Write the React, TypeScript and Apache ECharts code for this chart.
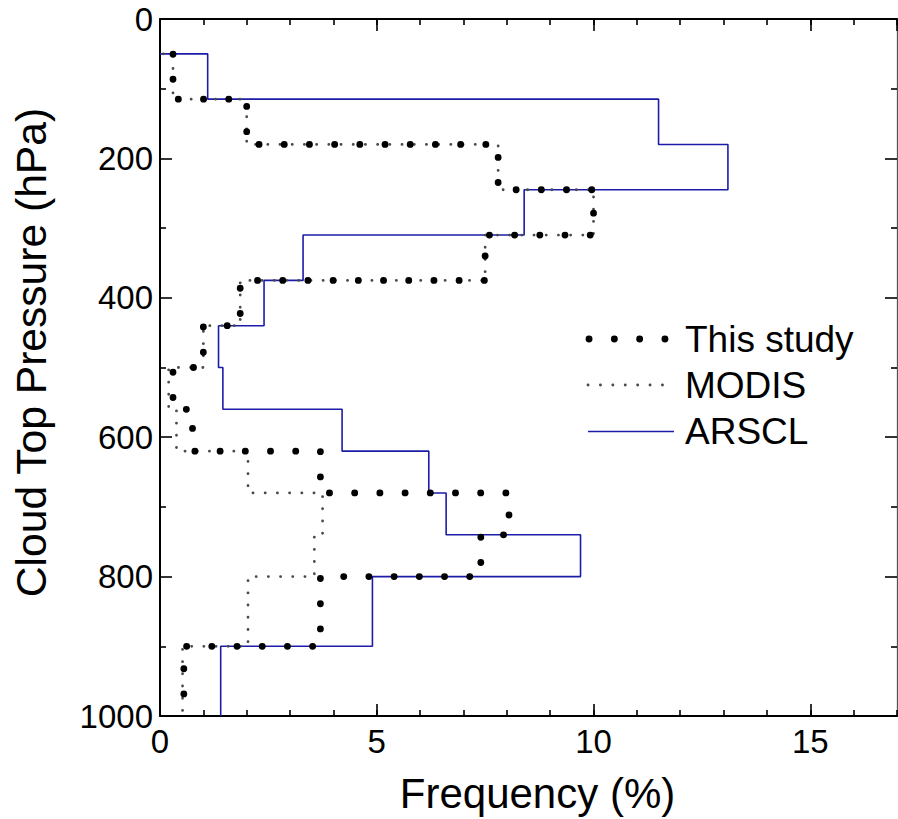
import React, { useEffect, useRef } from "react";
import * as echarts from "echarts";

// Pressure bin edges (hPa) and frequency (%) per bin
const pressureEdges = [50, 115, 180, 245, 310, 375, 440, 500, 560, 620, 680, 740, 800, 900, 1000];
const thisStudy = [0.3, 2.0, 7.8, 10.0, 7.5, 1.85, 1.0, 0.3, 0.75, 3.7, 8.05, 7.4, 3.7, 0.55];
const modis = [0.3, 2.0, 7.8, 10.0, 7.5, 1.85, 1.0, 0.2, 0.38, 2.03, 3.75, 3.56, 2.03, 0.52];
const arscl = [1.1, 11.5, 13.1, 8.4, 3.3, 2.4, 1.35, 1.45, 4.2, 6.2, 6.6, 9.7, 4.9, 1.4];
const seriesNames = ["This study", "MODIS", "ARSCL"];
const xMax = 17;
const yMax = 1000;

function stepPath(vals: number[]): number[][] {
  const pts: number[][] = [[0, pressureEdges[0]]];
  vals.forEach((v, i) => {
    pts.push([v, pressureEdges[i]]);
    pts.push([v, pressureEdges[i + 1]]);
  });
  return pts;
}

export default function App() {
  const ref = useRef<HTMLDivElement>(null);
  useEffect(() => {
    document.body.style.margin = "0";
    const chart = echarts.init(ref.current as HTMLDivElement, null, { renderer: "svg" });
    const font = "'Liberation Sans', Arial, Helvetica, sans-serif";
    const gridRect = { left: 160, top: 19, width: 737, height: 697, containLabel: false, outerBoundsMode: "none" };
    const black = "#000";
    const gray = "#4a4a4a";
    const blue = "#1c1ca8";
    const tickStyle = { color: black, width: 1.6 };

    const option: any = {
      animation: false,
      backgroundColor: "#fff",
      grid: [gridRect, { ...gridRect }],
      xAxis: [
        {
          gridIndex: 0,
          type: "value",
          position: "bottom",
          min: 0,
          max: xMax,
          interval: 5,
          name: "Frequency (%)",
          nameLocation: "middle",
          nameGap: 56,
          nameTextStyle: { fontFamily: font, fontSize: 42, color: black, padding: [0, 0, 0, 18] },
          axisLine: { show: true, onZero: false, lineStyle: { color: black, width: 2 } },
          axisTick: { show: true, inside: true, length: 12, lineStyle: tickStyle },
          axisLabel: { show: true, margin: 9, fontFamily: font, fontSize: 33, color: black, showMaxLabel: false },
          splitLine: { show: false },
        },
        {
          gridIndex: 0,
          type: "value",
          position: "top",
          min: 0,
          max: xMax,
          interval: 5,
          axisLine: { show: true, onZero: false, lineStyle: { color: black, width: 2 } },
          axisTick: { show: true, inside: true, length: 12, lineStyle: tickStyle },
          axisLabel: { show: false },
          splitLine: { show: false },
        },
        {
          gridIndex: 1,
          type: "value",
          position: "bottom",
          min: 0,
          max: xMax,
          interval: 1,
          axisLine: { show: false, onZero: false },
          axisTick: { show: true, inside: true, length: 6, lineStyle: tickStyle },
          axisLabel: { show: false },
          splitLine: { show: false },
        },
        {
          gridIndex: 1,
          type: "value",
          position: "top",
          min: 0,
          max: xMax,
          interval: 1,
          axisLine: { show: false, onZero: false },
          axisTick: { show: true, inside: true, length: 6, lineStyle: tickStyle },
          axisLabel: { show: false },
          splitLine: { show: false },
        },
      ],
      yAxis: [
        {
          gridIndex: 0,
          type: "value",
          position: "left",
          inverse: true,
          min: 0,
          max: yMax,
          interval: 200,
          name: "Cloud Top Pressure (hPa)",
          nameLocation: "middle",
          nameGap: 108,
          nameRotate: 90,
          nameTextStyle: { fontFamily: font, fontSize: 42.6, color: black, padding: [0, 0, 0, 30] },
          axisLine: { show: true, onZero: false, lineStyle: { color: black, width: 2 } },
          axisTick: { show: true, inside: true, length: 12, lineStyle: tickStyle },
          minorTick: { show: true, splitNumber: 2, length: 6, lineStyle: tickStyle },
          axisLabel: { show: true, margin: 7, fontFamily: font, fontSize: 33, color: black, formatter: (v: number) => String(v) },
          splitLine: { show: false },
          minorSplitLine: { show: false },
        },
        {
          gridIndex: 0,
          type: "value",
          position: "right",
          inverse: true,
          min: 0,
          max: yMax,
          interval: 200,
          axisLine: { show: true, onZero: false, lineStyle: { color: "#555", width: 1.3 } },
          axisTick: { show: true, inside: true, length: 12, lineStyle: tickStyle },
          minorTick: { show: true, splitNumber: 2, length: 6, lineStyle: tickStyle },
          axisLabel: { show: false },
          splitLine: { show: false },
          minorSplitLine: { show: false },
        },
        {
          gridIndex: 1,
          type: "value",
          show: false,
          inverse: true,
          min: 0,
          max: yMax,
          axisLine: { onZero: false },
        },
      ],
      series: [
        {
          name: seriesNames[2],
          type: "line",
          xAxisIndex: 0,
          yAxisIndex: 0,
          data: stepPath(arscl),
          showSymbol: false,
          symbol: "none",
          lineStyle: { color: blue, width: 1.6, type: "solid" },
          z: 2,
        },
        {
          name: seriesNames[1],
          type: "line",
          xAxisIndex: 0,
          yAxisIndex: 0,
          data: stepPath(modis),
          showSymbol: false,
          symbol: "none",
          lineStyle: { color: gray, width: 2.8, type: [0.1, 12.1], cap: "round", dashOffset: 8.9 },
          z: 3,
        },
        {
          name: seriesNames[0],
          type: "line",
          xAxisIndex: 0,
          yAxisIndex: 0,
          data: stepPath(thisStudy),
          showSymbol: false,
          symbol: "none",
          lineStyle: { color: black, width: 6.8, type: [0.1, 25.1], cap: "round", dashOffset: 12 },
          z: 4,
        },
      ],
      graphic: [
        {
          type: "line",
          shape: { x1: 589, y1: 339, x2: 666, y2: 339 },
          style: { stroke: black, lineWidth: 6.8, lineDash: [0.1, 25.2], lineCap: "round" },
        },
        {
          type: "text",
          x: 685,
          y: 339,
          style: { text: seriesNames[0], font: `37px ${font}`, fill: black, verticalAlign: "middle" },
        },
        {
          type: "line",
          shape: { x1: 588, y1: 385, x2: 663, y2: 385 },
          style: { stroke: gray, lineWidth: 2.8, lineDash: [0.1, 12.3], lineCap: "round" },
        },
        {
          type: "text",
          x: 685,
          y: 385,
          style: { text: seriesNames[1], font: `37px ${font}`, fill: black, verticalAlign: "middle" },
        },
        {
          type: "line",
          shape: { x1: 588, y1: 431.5, x2: 674, y2: 431.5 },
          style: { stroke: blue, lineWidth: 1.6 },
        },
        {
          type: "text",
          x: 685,
          y: 431,
          style: { text: seriesNames[2], font: `37px ${font}`, fill: black, verticalAlign: "middle" },
        },
      ],
    };
    chart.setOption(option);
    return () => {
      chart.dispose();
    };
  }, []);
  return <div ref={ref} style={{ width: 898, height: 819 }} />;
}
